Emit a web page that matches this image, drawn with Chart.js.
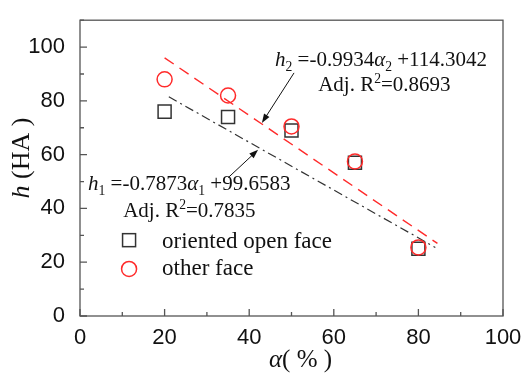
<!DOCTYPE html>
<html>
<head>
<meta charset="utf-8">
<script src="https://cdn.jsdelivr.net/npm/chart.js@4.4.1/dist/chart.umd.min.js"></script>
<style>
  html, body { margin: 0; padding: 0; background: #fff; }
  #wrap { width: 524px; height: 378px; }
</style>
</head>
<body>
<div id="wrap"><canvas id="chart"></canvas></div>
<script>
// measured points
const alphaOpen = [20, 35, 50, 65, 80];
const hOpen = [76, 74, 69, 57, 25];
const alphaOther = [20, 35, 50, 65, 80];
const hOther = [88, 82, 70.5, 57.5, 25.5];

// fitted lines (end points)
const fitOpenX = [21, 84];
const fitOpenY = [81.5, 25.5];
const fitOtherX = [20, 84.5];
const fitOtherY = [96, 27];

const xTickLabels = [0, 20, 40, 60, 80, 100];
const yTickLabels = [0, 20, 40, 60, 80, 100];

const seriesNames = ["oriented open face", "other face"];

const SERIF = "'Liberation Serif', 'Times New Roman', serif";
const SANS = "'Liberation Sans', Arial, sans-serif";

function toPoints(xs, ys) {
  return xs.map((v, i) => ({ x: v, y: ys[i] }));
}

// draw a line of text made of runs: {t, it, sub, sup}
function drawRuns(ctx, runs, x, y, size) {
  let cx = x;
  runs.forEach(r => {
    const s = (r.sub || r.sup) ? size * 0.65 : size;
    ctx.font = (r.it ? "italic " : "") + s + "px " + SERIF;
    const dy = r.sub ? size * 0.22 : r.sup ? -size * 0.38 : 0;
    ctx.fillText(r.t, cx, y + dy);
    cx += ctx.measureText(r.t).width;
  });
}

function runsWidth(ctx, runs, size) {
  let w = 0;
  runs.forEach(r => {
    const s = (r.sub || r.sup) ? size * 0.65 : size;
    ctx.font = (r.it ? "italic " : "") + s + "px " + SERIF;
    w += ctx.measureText(r.t).width;
  });
  return w;
}

function arrow(ctx, x1, y1, x2, y2) {
  const ang = Math.atan2(y2 - y1, x2 - x1);
  const hl = 9, hw = 3.2;
  ctx.beginPath();
  ctx.moveTo(x1, y1);
  ctx.lineTo(x2 - Math.cos(ang) * hl * 0.8, y2 - Math.sin(ang) * hl * 0.8);
  ctx.stroke();
  ctx.beginPath();
  ctx.moveTo(x2, y2);
  ctx.lineTo(x2 - Math.cos(ang) * hl - Math.sin(ang) * hw, y2 - Math.sin(ang) * hl + Math.cos(ang) * hw);
  ctx.lineTo(x2 - Math.cos(ang) * hl + Math.sin(ang) * hw, y2 - Math.sin(ang) * hl - Math.cos(ang) * hw);
  ctx.closePath();
  ctx.fill();
}

const decorations = {
  id: "decorations",
  afterDraw(chart) {
    const { ctx, chartArea: a, scales: { x, y } } = chart;
    const P = (xv, yv) => [x.getPixelForValue(xv), y.getPixelForValue(yv)];
    ctx.save();

    // frame
    ctx.strokeStyle = "#555";
    ctx.lineWidth = 1.3;
    ctx.strokeRect(a.left, a.top, a.right - a.left, a.bottom - a.top);

    // inward ticks, major every 20, minor every 10
    ctx.beginPath();
    x.ticks.forEach(t => {
      const px = x.getPixelForValue(t.value);
      const len = t.value % 20 === 0 ? 7 : 4;
      ctx.moveTo(px, a.bottom);
      ctx.lineTo(px, a.bottom - len);
    });
    y.ticks.forEach(t => {
      const py = y.getPixelForValue(t.value);
      const len = t.value % 20 === 0 ? 7 : 4;
      ctx.moveTo(a.left, py);
      ctx.lineTo(a.left + len, py);
    });
    ctx.stroke();

    // axis titles
    ctx.fillStyle = "#111";
    ctx.textBaseline = "alphabetic";
    ctx.textAlign = "left";
    const xt = [{ t: "\u03b1", it: true }, { t: "( % )" }];
    let w = runsWidth(ctx, xt, 25);
    drawRuns(ctx, xt, (a.left + a.right) / 2 + 9 - w / 2, 367, 25);

    const yt = [{ t: "h", it: true }, { t: " (HA )" }];
    w = runsWidth(ctx, yt, 26);
    ctx.save();
    ctx.translate(29, 158);
    ctx.rotate(-Math.PI / 2);
    drawRuns(ctx, yt, -w / 2, 0, 26);
    ctx.restore();

    // equations
    let p = P(46.1, 92.9);
    drawRuns(ctx, [
      { t: "h", it: true }, { t: "2", sub: true }, { t: " =-0.9934" },
      { t: "\u03b1", it: true }, { t: "2", sub: true }, { t: " +114.3042" }
    ], p[0], p[1], 21);
    p = P(56.3, 83.6);
    drawRuns(ctx, [{ t: "Adj. R" }, { t: "2", sup: true }, { t: "=0.8693" }], p[0], p[1], 21);

    p = P(1.9, 46.8);
    drawRuns(ctx, [
      { t: "h", it: true }, { t: "1", sub: true }, { t: " =-0.7873" },
      { t: "\u03b1", it: true }, { t: "1", sub: true }, { t: " +99.6583" }
    ], p[0], p[1], 21);
    p = P(10.2, 36.8);
    drawRuns(ctx, [{ t: "Adj. R" }, { t: "2", sup: true }, { t: "=0.7835" }], p[0], p[1], 21);

    // arrows
    ctx.strokeStyle = "#111";
    ctx.lineWidth = 1;
    let t1 = P(50.6, 90.4), h1 = P(43.0, 71.8);
    arrow(ctx, t1[0], t1[1], h1[0], h1[1]);
    t1 = P(35.0, 51.4); h1 = P(42.1, 61.8);
    arrow(ctx, t1[0], t1[1], h1[0], h1[1]);

    // legend
    const ds = chart.data.datasets;
    let m = P(11.6, 28.2);
    ctx.strokeStyle = ds[0].borderColor;
    ctx.lineWidth = 1.5;
    ctx.strokeRect(m[0] - 6.5, m[1] - 6.5, 13, 13);
    m = P(11.6, 17.5);
    ctx.strokeStyle = ds[1].borderColor;
    ctx.beginPath();
    ctx.arc(m[0], m[1], 7.5, 0, Math.PI * 2);
    ctx.stroke();
    ctx.font = "23px " + SERIF;
    ctx.fillStyle = "#111";
    p = P(19.4, 25.4);
    ctx.fillText(ds[0].label, p[0], p[1]);
    p = P(19.4, 15.4);
    ctx.fillText(ds[1].label, p[0], p[1]);

    ctx.restore();
  }
};

new Chart(document.getElementById("chart"), {
  type: "scatter",
  data: {
    datasets: [
      {
        label: seriesNames[0],
        data: toPoints(alphaOpen, hOpen),
        pointStyle: "rect",
        pointRadius: 9.2,
        pointHoverRadius: 9.2,
        borderWidth: 1.5,
        borderColor: "#333",
        backgroundColor: "rgba(0,0,0,0)",
        order: 2
      },
      {
        label: seriesNames[1],
        data: toPoints(alphaOther, hOther),
        pointStyle: "circle",
        pointRadius: 7.5,
        pointHoverRadius: 7.5,
        borderWidth: 1.5,
        borderColor: "#ff2b2b",
        backgroundColor: "rgba(0,0,0,0)",
        order: 1
      },
      {
        label: "fit open",
        data: toPoints(fitOpenX, fitOpenY),
        showLine: true,
        pointRadius: 0,
        borderColor: "#333",
        borderWidth: 1.2,
        borderDash: [9, 4, 2, 4],
        order: 3
      },
      {
        label: "fit other",
        data: toPoints(fitOtherX, fitOtherY),
        showLine: true,
        pointRadius: 0,
        borderColor: "#ff2b2b",
        borderWidth: 1.4,
        borderDash: [11, 7],
        order: 3
      }
    ]
  },
  options: {
    responsive: true,
    maintainAspectRatio: false,
    animation: false,
    layout: { padding: { top: 8, right: 21, left: 0, bottom: 0 } },
    plugins: { legend: { display: false }, tooltip: { enabled: false } },
    scales: {
      x: {
        type: "linear",
        min: 0,
        max: 100,
        grid: { display: false },
        border: { display: false },
        afterFit(s) { s.height = 62; },
        ticks: {
          stepSize: 10,
          maxRotation: 0,
          autoSkip: false,
          padding: 1,
          color: "#111",
          font: { family: SANS, size: 22 },
          callback: v => xTickLabels.includes(v) ? String(v) : ""
        }
      },
      y: {
        type: "linear",
        min: 0,
        max: 110,
        grid: { display: false },
        border: { display: false },
        afterFit(s) { s.width = 80; },
        ticks: {
          stepSize: 10,
          autoSkip: false,
          padding: 7,
          color: "#111",
          font: { family: SANS, size: 22 },
          callback: v => yTickLabels.includes(v) ? String(v) : ""
        }
      }
    }
  },
  plugins: [decorations]
});
</script>
</body>
</html>
